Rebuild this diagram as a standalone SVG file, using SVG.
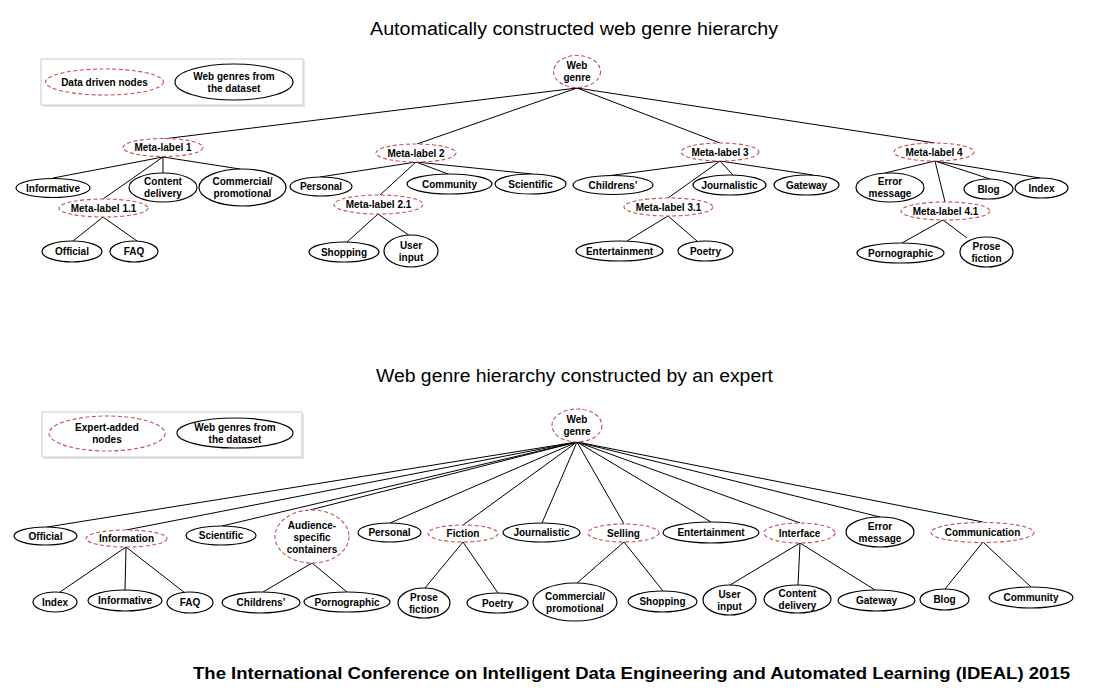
<svg xmlns="http://www.w3.org/2000/svg" width="1096" height="699" viewBox="0 0 1096 699">
<style>
.dn{fill:#fff;stroke:#c9504e;stroke-width:1.1;stroke-dasharray:4 2.5}
.wg{fill:#fff;stroke:#000;stroke-width:1.2}
.t{font-family:"Liberation Sans",Arial,sans-serif;font-weight:bold;font-size:10px;fill:#000;text-anchor:middle}
.title{font-family:"Liberation Sans",Arial,sans-serif;font-size:18px;fill:#000;text-anchor:start}
.foot{font-family:"Liberation Sans",Arial,sans-serif;font-weight:bold;font-size:16px;fill:#000}
.e{stroke:#000;stroke-width:1;fill:none}
.leg{fill:#fff;stroke:#d4d4d4;stroke-width:1.2}
.sh{fill:#e6e6e6}
</style>
<rect width="1096" height="699" fill="#fff"/>

<text class="title" x="370" y="35" textLength="408" lengthAdjust="spacingAndGlyphs">Automatically constructed web genre hierarchy</text>
<text class="title" x="376" y="382" textLength="397" lengthAdjust="spacingAndGlyphs">Web genre hierarchy constructed by an expert</text>
<text class="foot" x="193" y="679" textLength="877" lengthAdjust="spacingAndGlyphs">The International  Conference on Intelligent Data Engineering and Automated Learning (IDEAL) 2015</text>

<g id="connectors">
  <line class="e" x1="577" y1="88" x2="163" y2="139"/>
  <line class="e" x1="577" y1="88" x2="417" y2="144"/>
  <line class="e" x1="577" y1="88" x2="720" y2="143"/>
  <line class="e" x1="577" y1="88" x2="935" y2="143"/>
  <line class="e" x1="163" y1="157" x2="53" y2="178"/>
  <line class="e" x1="163" y1="157" x2="163" y2="173"/>
  <line class="e" x1="163" y1="157" x2="240" y2="169"/>
  <line class="e" x1="163" y1="157" x2="103" y2="199"/>
  <line class="e" x1="103" y1="217" x2="73" y2="241"/>
  <line class="e" x1="103" y1="217" x2="137" y2="241"/>
  <line class="e" x1="416" y1="162" x2="320" y2="177"/>
  <line class="e" x1="416" y1="162" x2="448" y2="174"/>
  <line class="e" x1="416" y1="162" x2="532" y2="174"/>
  <line class="e" x1="416" y1="162" x2="380" y2="195"/>
  <line class="e" x1="378" y1="214" x2="347" y2="242"/>
  <line class="e" x1="378" y1="214" x2="410" y2="236"/>
  <line class="e" x1="720" y1="161" x2="607" y2="176"/>
  <line class="e" x1="720" y1="161" x2="733" y2="175"/>
  <line class="e" x1="720" y1="161" x2="813" y2="175"/>
  <line class="e" x1="720" y1="161" x2="668" y2="198"/>
  <line class="e" x1="668" y1="216" x2="627" y2="241"/>
  <line class="e" x1="668" y1="216" x2="697" y2="241"/>
  <line class="e" x1="935" y1="161" x2="885" y2="173"/>
  <line class="e" x1="935" y1="161" x2="990" y2="179"/>
  <line class="e" x1="935" y1="161" x2="1040" y2="178"/>
  <line class="e" x1="935" y1="161" x2="945" y2="202"/>
  <line class="e" x1="943" y1="220" x2="902" y2="243"/>
  <line class="e" x1="943" y1="220" x2="967" y2="238"/>
  <line class="e" x1="577" y1="442" x2="47" y2="527"/>
  <line class="e" x1="577" y1="442" x2="126" y2="530"/>
  <line class="e" x1="577" y1="442" x2="222" y2="526"/>
  <line class="e" x1="577" y1="442" x2="310" y2="510"/>
  <line class="e" x1="577" y1="442" x2="390" y2="523"/>
  <line class="e" x1="577" y1="442" x2="463" y2="525"/>
  <line class="e" x1="577" y1="442" x2="542" y2="523"/>
  <line class="e" x1="577" y1="442" x2="624" y2="524"/>
  <line class="e" x1="577" y1="442" x2="711" y2="522"/>
  <line class="e" x1="577" y1="442" x2="800" y2="523"/>
  <line class="e" x1="577" y1="442" x2="880" y2="517"/>
  <line class="e" x1="577" y1="442" x2="983" y2="522"/>
  <line class="e" x1="126" y1="547" x2="60" y2="592"/>
  <line class="e" x1="126" y1="547" x2="125" y2="590"/>
  <line class="e" x1="126" y1="547" x2="185" y2="593"/>
  <line class="e" x1="312" y1="563" x2="263" y2="592"/>
  <line class="e" x1="312" y1="563" x2="347" y2="592"/>
  <line class="e" x1="463" y1="542" x2="425" y2="588"/>
  <line class="e" x1="463" y1="542" x2="498" y2="593"/>
  <line class="e" x1="624" y1="542" x2="577" y2="583"/>
  <line class="e" x1="624" y1="542" x2="663" y2="591"/>
  <line class="e" x1="800" y1="543" x2="730" y2="585"/>
  <line class="e" x1="800" y1="543" x2="798" y2="585"/>
  <line class="e" x1="800" y1="543" x2="875" y2="590"/>
  <line class="e" x1="983" y1="542" x2="945" y2="589"/>
  <line class="e" x1="983" y1="542" x2="1031" y2="587"/>
</g>

<g id="legend-top">
  <rect class="sh" x="43" y="61" width="262" height="46"/>
  <rect class="leg" x="41" y="59" width="262" height="46"/>
  <ellipse class="dn" cx="104.5" cy="82" rx="59" ry="13"/>
  <text class="t" x="104.5" y="85.5">Data driven nodes</text>
  <ellipse class="wg" cx="234" cy="82" rx="59" ry="18"/>
  <text class="t" x="234" y="79.5">Web genres from</text>
  <text class="t" x="234" y="91.5">the dataset</text>
</g>
<g id="legend-bottom">
  <rect class="sh" x="44" y="414" width="260" height="45"/>
  <rect class="leg" x="42" y="412" width="260" height="45"/>
  <ellipse class="dn" cx="107" cy="433.5" rx="58" ry="17.5"/>
  <text class="t" x="107" y="431">Expert-added</text>
  <text class="t" x="107" y="443">nodes</text>
  <ellipse class="wg" cx="235" cy="433" rx="58" ry="15"/>
  <text class="t" x="235" y="430.5">Web genres from</text>
  <text class="t" x="235" y="442.5">the dataset</text>
</g>

<g id="t-root"><ellipse class="dn" cx="577" cy="71.5" rx="23.5" ry="16"/><text class="t" x="577" y="69">Web</text><text class="t" x="577" y="81">genre</text></g>
<g id="t-ml1"><ellipse class="dn" cx="163" cy="147.5" rx="40" ry="9"/><text class="t" x="163" y="151">Meta-label 1</text></g>
<g id="t-informative"><ellipse class="wg" cx="53" cy="188" rx="37" ry="9.5"/><text class="t" x="53" y="191.5">Informative</text></g>
<g id="t-content"><ellipse class="wg" cx="163" cy="187.5" rx="34" ry="14.5"/><text class="t" x="163" y="185">Content</text><text class="t" x="163" y="197">delivery</text></g>
<g id="t-commercial"><ellipse class="wg" cx="242.5" cy="187.5" rx="43.5" ry="18.5"/><text class="t" x="242.5" y="185">Commercial/</text><text class="t" x="242.5" y="197">promotional</text></g>
<g id="t-ml11"><ellipse class="dn" cx="103.5" cy="208" rx="44.5" ry="9"/><text class="t" x="103.5" y="211.5">Meta-label 1.1</text></g>
<g id="t-official"><ellipse class="wg" cx="72" cy="251.5" rx="30" ry="10.5"/><text class="t" x="72" y="255">Official</text></g>
<g id="t-faq"><ellipse class="wg" cx="134" cy="251.5" rx="24" ry="10.5"/><text class="t" x="134" y="255">FAQ</text></g>

<g id="t-ml2"><ellipse class="dn" cx="416" cy="153" rx="40" ry="9"/><text class="t" x="416" y="156.5">Meta-label 2</text></g>
<g id="t-personal"><ellipse class="wg" cx="321" cy="186.5" rx="31" ry="9.5"/><text class="t" x="321" y="190">Personal</text></g>
<g id="t-community"><ellipse class="wg" cx="449.5" cy="184" rx="42.5" ry="10"/><text class="t" x="449.5" y="187.5">Community</text></g>
<g id="t-scientific"><ellipse class="wg" cx="530.5" cy="184" rx="35.5" ry="10"/><text class="t" x="530.5" y="187.5">Scientific</text></g>
<g id="t-ml21"><ellipse class="dn" cx="378.5" cy="204.5" rx="44.5" ry="9.5"/><text class="t" x="378.5" y="208">Meta-label 2.1</text></g>
<g id="t-shopping"><ellipse class="wg" cx="344" cy="252" rx="35" ry="10"/><text class="t" x="344" y="255.5">Shopping</text></g>
<g id="t-userinput"><ellipse class="wg" cx="411" cy="251" rx="27" ry="16"/><text class="t" x="411" y="248.5">User</text><text class="t" x="411" y="260.5">input</text></g>

<g id="t-ml3"><ellipse class="dn" cx="720" cy="152" rx="39" ry="9"/><text class="t" x="720" y="155.5">Meta-label 3</text></g>
<g id="t-childrens"><ellipse class="wg" cx="613" cy="185" rx="40" ry="9.5"/><text class="t" x="613" y="188.5">Childrens’</text></g>
<g id="t-journalistic"><ellipse class="wg" cx="729.5" cy="185" rx="36.5" ry="10"/><text class="t" x="729.5" y="188.5">Journalistic</text></g>
<g id="t-gateway"><ellipse class="wg" cx="806.5" cy="185" rx="32.5" ry="10"/><text class="t" x="806.5" y="188.5">Gateway</text></g>
<g id="t-ml31"><ellipse class="dn" cx="668.5" cy="207" rx="44.5" ry="9"/><text class="t" x="668.5" y="210.5">Meta-label 3.1</text></g>
<g id="t-entertainment"><ellipse class="wg" cx="619.5" cy="251" rx="43.5" ry="10"/><text class="t" x="619.5" y="254.5">Entertainment</text></g>
<g id="t-poetry"><ellipse class="wg" cx="705.5" cy="251" rx="27.5" ry="10"/><text class="t" x="705.5" y="254.5">Poetry</text></g>

<g id="t-ml4"><ellipse class="dn" cx="934" cy="152" rx="40" ry="9"/><text class="t" x="934" y="155.5">Meta-label 4</text></g>
<g id="t-error"><ellipse class="wg" cx="890" cy="187.5" rx="34" ry="14.5"/><text class="t" x="890" y="185">Error</text><text class="t" x="890" y="197">message</text></g>
<g id="t-blog"><ellipse class="wg" cx="988.5" cy="189" rx="24.5" ry="10"/><text class="t" x="988.5" y="192.5">Blog</text></g>
<g id="t-index"><ellipse class="wg" cx="1041.5" cy="188" rx="26.5" ry="10"/><text class="t" x="1041.5" y="191.5">Index</text></g>
<g id="t-ml41"><ellipse class="dn" cx="945.5" cy="211" rx="44.5" ry="9"/><text class="t" x="945.5" y="214.5">Meta-label 4.1</text></g>
<g id="t-porno"><ellipse class="wg" cx="900.5" cy="253" rx="43.5" ry="10"/><text class="t" x="900.5" y="256.5">Pornographic</text></g>
<g id="t-prose"><ellipse class="wg" cx="986.5" cy="252" rx="26.5" ry="15"/><text class="t" x="986.5" y="249.5">Prose</text><text class="t" x="986.5" y="261.5">fiction</text></g>

<g id="b-root"><ellipse class="dn" cx="577" cy="425.5" rx="25" ry="16.5"/><text class="t" x="577" y="423">Web</text><text class="t" x="577" y="435">genre</text></g>
<g id="b-official"><ellipse class="wg" cx="45.5" cy="536" rx="31.5" ry="9"/><text class="t" x="45.5" y="539.5">Official</text></g>
<g id="b-information"><ellipse class="dn" cx="126.5" cy="538.5" rx="40.5" ry="8.5"/><text class="t" x="126.5" y="542">Information</text></g>
<g id="b-scientific"><ellipse class="wg" cx="221" cy="535.5" rx="35" ry="9.5"/><text class="t" x="221" y="539">Scientific</text></g>
<g id="b-audience"><ellipse class="dn" cx="312" cy="536.5" rx="37" ry="26.5"/><text class="t" x="312" y="529">Audience-</text><text class="t" x="312" y="541">specific</text><text class="t" x="312" y="553">containers</text></g>
<g id="b-personal"><ellipse class="wg" cx="389.5" cy="532.5" rx="31.5" ry="9.5"/><text class="t" x="389.5" y="536">Personal</text></g>
<g id="b-fiction"><ellipse class="dn" cx="463" cy="533.5" rx="35" ry="8.5"/><text class="t" x="463" y="537">Fiction</text></g>
<g id="b-journalistic"><ellipse class="wg" cx="541.5" cy="532.5" rx="38.5" ry="9.5"/><text class="t" x="541.5" y="536">Journalistic</text></g>
<g id="b-selling"><ellipse class="dn" cx="623.5" cy="533" rx="35.5" ry="9"/><text class="t" x="623.5" y="536.5">Selling</text></g>
<g id="b-entertainment"><ellipse class="wg" cx="711" cy="532.5" rx="48" ry="10.5"/><text class="t" x="711" y="536">Entertainment</text></g>
<g id="b-interface"><ellipse class="dn" cx="799.5" cy="533" rx="35.5" ry="10"/><text class="t" x="799.5" y="536.5">Interface</text></g>
<g id="b-error"><ellipse class="wg" cx="880" cy="532" rx="34" ry="15"/><text class="t" x="880" y="529.5">Error</text><text class="t" x="880" y="541.5">message</text></g>
<g id="b-communication"><ellipse class="dn" cx="982.5" cy="532.5" rx="51.5" ry="10"/><text class="t" x="982.5" y="536">Communication</text></g>

<g id="b-index"><ellipse class="wg" cx="55" cy="602" rx="22" ry="10"/><text class="t" x="55" y="605.5">Index</text></g>
<g id="b-informative"><ellipse class="wg" cx="125" cy="600.5" rx="37" ry="10.5"/><text class="t" x="125" y="604">Informative</text></g>
<g id="b-faq"><ellipse class="wg" cx="190" cy="602.5" rx="23" ry="10.5"/><text class="t" x="190" y="606">FAQ</text></g>
<g id="b-childrens"><ellipse class="wg" cx="261" cy="602.5" rx="39" ry="10.5"/><text class="t" x="261" y="606">Childrens’</text></g>
<g id="b-porno"><ellipse class="wg" cx="347" cy="602" rx="43" ry="10"/><text class="t" x="347" y="605.5">Pornographic</text></g>
<g id="b-prose"><ellipse class="wg" cx="424" cy="603" rx="26" ry="15"/><text class="t" x="424" y="600.5">Prose</text><text class="t" x="424" y="612.5">fiction</text></g>
<g id="b-poetry"><ellipse class="wg" cx="497.5" cy="603" rx="30.5" ry="10"/><text class="t" x="497.5" y="606.5">Poetry</text></g>
<g id="b-commercial"><ellipse class="wg" cx="575" cy="602" rx="42" ry="19"/><text class="t" x="575" y="599.5">Commercial/</text><text class="t" x="575" y="611.5">promotional</text></g>
<g id="b-shopping"><ellipse class="wg" cx="662.5" cy="601.5" rx="34.5" ry="10.5"/><text class="t" x="662.5" y="605">Shopping</text></g>
<g id="b-userinput"><ellipse class="wg" cx="729.5" cy="600" rx="26.5" ry="15"/><text class="t" x="729.5" y="597.5">User</text><text class="t" x="729.5" y="609.5">input</text></g>
<g id="b-content"><ellipse class="wg" cx="797.5" cy="599" rx="33.5" ry="14"/><text class="t" x="797.5" y="596.5">Content</text><text class="t" x="797.5" y="608.5">delivery</text></g>
<g id="b-gateway"><ellipse class="wg" cx="876.5" cy="600.5" rx="38.5" ry="10.5"/><text class="t" x="876.5" y="604">Gateway</text></g>
<g id="b-blog"><ellipse class="wg" cx="944.5" cy="599.5" rx="24.5" ry="10.5"/><text class="t" x="944.5" y="603">Blog</text></g>
<g id="b-community"><ellipse class="wg" cx="1031" cy="597.5" rx="42" ry="10.5"/><text class="t" x="1031" y="601">Community</text></g>
</svg>
